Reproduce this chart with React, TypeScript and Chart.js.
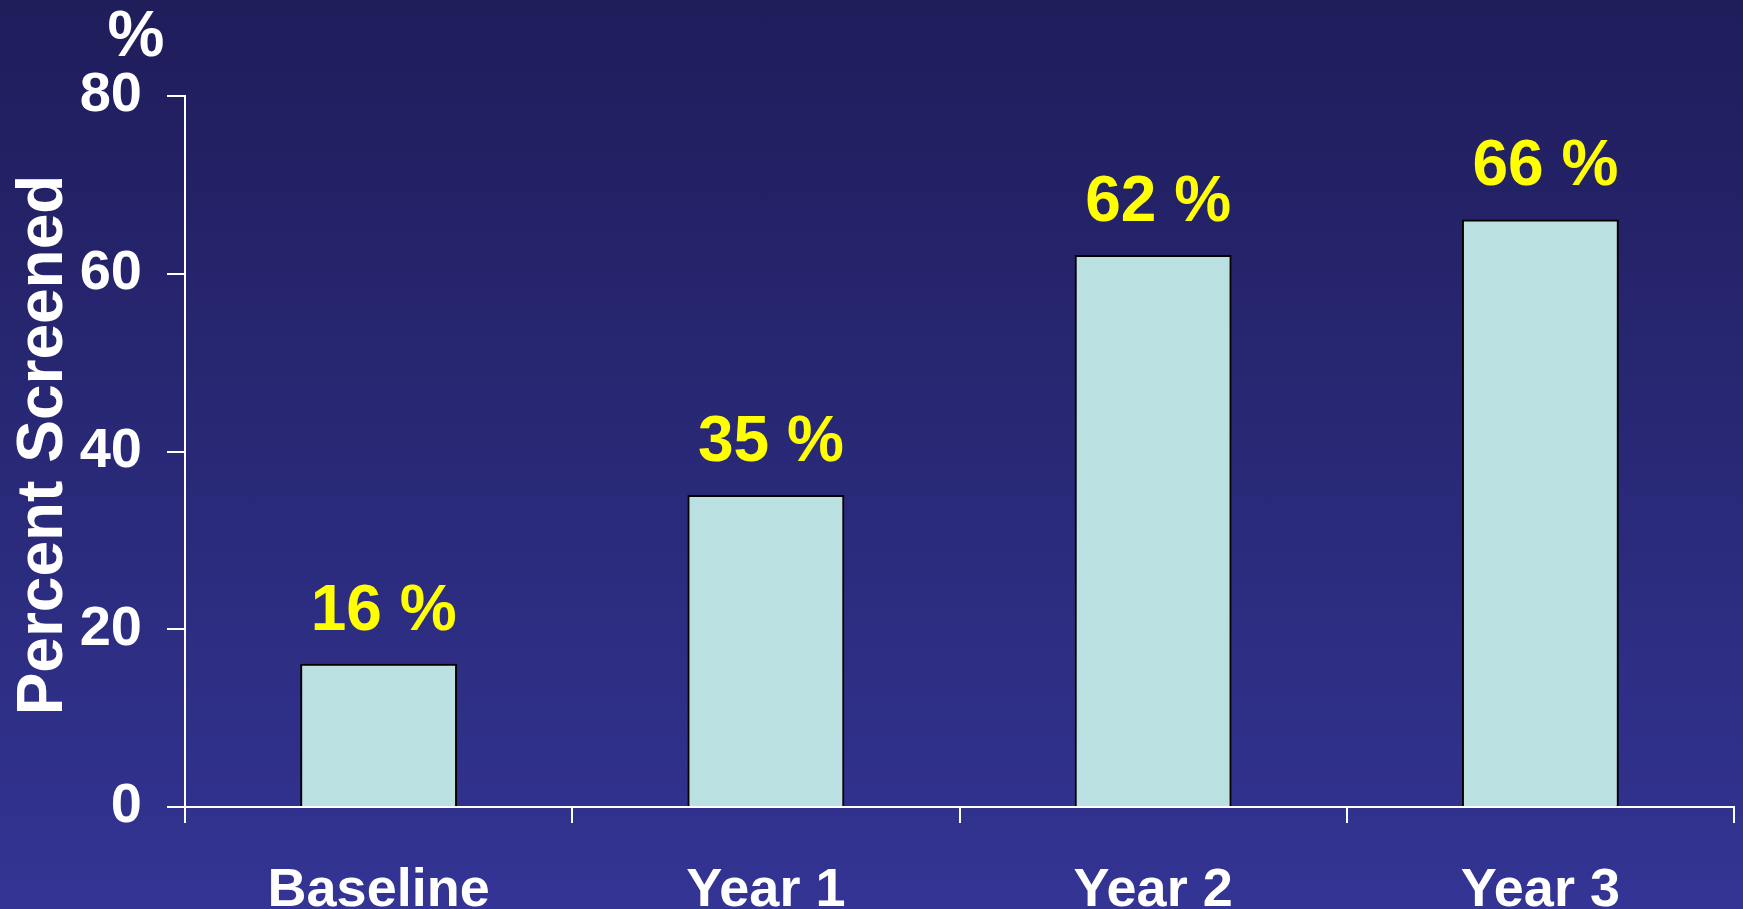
import React, { useEffect, useRef } from "react";
import { Chart, registerables } from "chart.js";

Chart.register(...registerables);

const categories = ["Baseline", "Year 1", "Year 2", "Year 3"];
const percentScreened = [16, 35, 62, 66];
const valueLabels = ["16 %", "35 %", "62 %", "66 %"];
const yTickValues = [0, 20, 40, 60, 80];
const yTitle = "Percent Screened";

const FONT = "'Liberation Sans', Arial, Helvetica, sans-serif";

const valueLabelPlugin = {
  id: "valueLabels",
  afterDatasetsDraw(chart: any) {
    const { ctx } = chart;
    const meta = chart.getDatasetMeta(0);
    ctx.save();
    ctx.fillStyle = "#FFFF00";
    ctx.font = `bold 64px ${FONT}`;
    ctx.textAlign = "center";
    ctx.textBaseline = "alphabetic";
    meta.data.forEach((bar: any, i: number) => {
      ctx.fillText(valueLabels[i], bar.x + 5, bar.y - 35);
    });
    // unit marker above the y axis
    ctx.fillStyle = "#FFFFFF";
    ctx.fillText("%", 136, 56);
    // y axis title
    ctx.translate(44, 445);
    ctx.rotate(-Math.PI / 2);
    ctx.textBaseline = "middle";
    ctx.fillText(yTitle, 0, 0);
    ctx.restore();
  },
};

export default function App() {
  const canvasRef = useRef<HTMLCanvasElement | null>(null);

  useEffect(() => {
    document.body.style.margin = "0";
    const canvas = canvasRef.current;
    if (!canvas) return;
    const chart = new Chart(canvas, {
      type: "bar",
      data: {
        labels: categories,
        datasets: [
          {
            data: percentScreened,
            backgroundColor: "#BAE0E2",
            borderColor: "#000000",
            borderWidth: 2,
            inflateAmount: 1,
            barPercentage: 0.4,
            categoryPercentage: 1.0,
          },
        ],
      },
      options: {
        responsive: false,
        animation: false,
        layout: { padding: { top: 96, right: 9, left: 0, bottom: 0 } },
        plugins: {
          legend: { display: false },
          tooltip: { enabled: false },
        },
        scales: {
          x: {
            afterFit: (scale: any) => {
              scale.height = 102;
            },
            grid: {
              drawOnChartArea: false,
              drawTicks: true,
              tickLength: 16,
              color: "#FFFFFF",
              lineWidth: 2,
              offset: true,
            },
            border: { display: true, color: "#FFFFFF", width: 2 },
            ticks: {
              color: "#FFFFFF",
              font: { family: FONT, size: 54, weight: "bold" },
              padding: 36,
              maxRotation: 0,
              autoSkip: false,
            },
          },
          y: {
            min: 0,
            max: 80,
            afterFit: (scale: any) => {
              scale.width = 185;
            },
            afterBuildTicks: (scale: any) => {
              scale.ticks = yTickValues.map((v) => ({ value: v }));
            },
            grid: {
              drawOnChartArea: false,
              drawTicks: true,
              tickLength: 18,
              color: "#FFFFFF",
              lineWidth: 2,
            },
            border: { display: true, color: "#FFFFFF", width: 2 },
            ticks: {
              color: "#FFFFFF",
              font: { family: FONT, size: 56, weight: "bold" },
              padding: 25,
            },
          },
        },
      },
      plugins: [valueLabelPlugin],
    });
    return () => chart.destroy();
  }, []);

  return (
    <div
      style={{
        position: "absolute",
        left: 0,
        top: 0,
        width: 1743,
        height: 909,
        overflow: "hidden",
        background: "linear-gradient(to bottom, #1F1D5A 0%, #333494 100%)",
      }}
    >
      <canvas ref={canvasRef} width={1743} height={909} style={{ display: "block" }} />
    </div>
  );
}
